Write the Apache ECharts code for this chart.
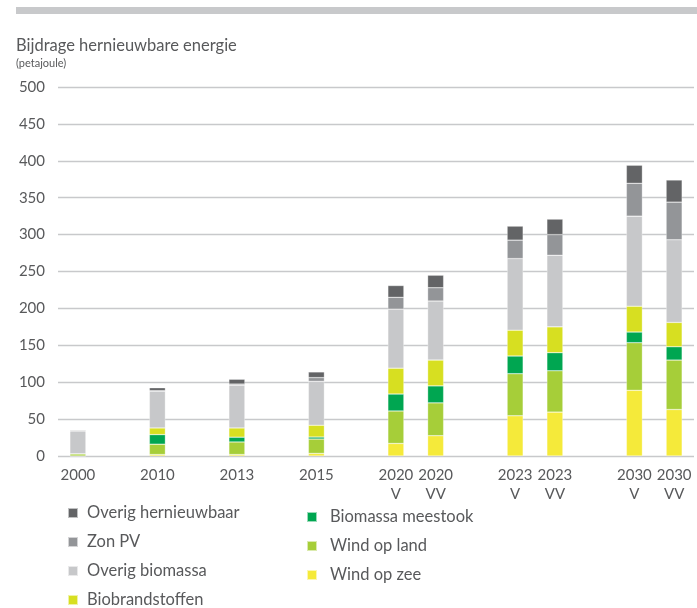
<!DOCTYPE html>
<html>
<head>
<meta charset="utf-8">
<script src="https://cdn.jsdelivr.net/npm/echarts@6/dist/echarts.min.js"></script>
<style>
  html, body { margin: 0; padding: 0; background: #fff; }
  #chart { width: 697px; height: 608px; }
</style>
</head>
<body>
<div id="chart"></div>
<script>
// empty strings are spacer slots so the bars keep their uneven spacing
const categories = ['2000', '', '2010', '', '2013', '', '2015', '', '2020\nV', '2020\nVV', '', '2023\nV', '2023\nVV', '', '2030\nV', '2030\nVV']

const windOpZee = [0, null, 2, null, 2, null, 3.5, null, 17, 27.5, null, 54.5, 59.5, null, 89, 63]
const windOpLand = [3, null, 14, null, 17, null, 19.5, null, 44, 44.5, null, 57, 56, null, 64.5, 67]
const biomassaMeestook = [0, null, 13, null, 6.5, null, 2.7, null, 23, 23, null, 24, 24.5, null, 14.5, 18]
const biobrandstoffen = [0, null, 9, null, 12.5, null, 16, null, 35, 35, null, 35, 35, null, 35, 33]
const overigBiomassa = [31, null, 50, null, 58, null, 59.5, null, 80, 80, null, 97, 97, null, 122, 112]
const zonPV = [0, null, 0.5, null, 1.5, null, 5, null, 16, 18, null, 25, 28, null, 44.5, 51]
const overigHernieuwbaar = [1, null, 4, null, 6.5, null, 7.7, null, 16, 17, null, 19, 21, null, 24.5, 30]

const textColor = '#58595b'
const fontFamily = 'Lato, "Open Sans", sans-serif'

const chart = echarts.init(document.getElementById('chart'))

function bar(name, data, color) {
  return {
    name: name,
    type: 'bar',
    stack: 'total',
    barWidth: 16,
    data: data,
    itemStyle: {
      color: color,
      borderColor: 'rgba(255,255,255,0.6)',
      borderWidth: 0.5
    },
    animation: false
  }
}

function legendText(gap) {
  return {
    color: textColor,
    fontFamily: fontFamily,
    fontSize: 16.5,
    lineHeight: 18,
    padding: [0, 0, 0, gap]
  }
}

chart.setOption({
  textStyle: { fontFamily: fontFamily },
  graphic: [{
    type: 'rect',
    shape: { x: 16, y: 7, width: 681, height: 7 },
    style: { fill: '#c8c9cb' }
  }],
  title: {
    text: 'Bijdrage hernieuwbare energie',
    subtext: '(petajoule)',
    left: 11,
    top: 32,
    itemGap: 4,
    textStyle: { color: textColor, fontSize: 16.5, fontWeight: 'normal', fontFamily: fontFamily },
    subtextStyle: { color: textColor, fontSize: 11, fontFamily: fontFamily }
  },
  grid: {
    left: 58,
    right: 3,
    top: 87,
    bottom: 152
  },
  legend: [{
    data: ['Overig hernieuwbaar', 'Zon PV', 'Overig biomassa', 'Biobrandstoffen'],
    orient: 'vertical',
    left: 62,
    top: 499,
    height: 140,
    icon: 'rect',
    itemWidth: 10,
    itemHeight: 10,
    itemGap: 11,
    textStyle: legendText(4)
  }, {
    data: ['Biomassa meestook', 'Wind op land', 'Wind op zee'],
    orient: 'vertical',
    left: 301,
    top: 503,
    height: 140,
    icon: 'rect',
    itemWidth: 10,
    itemHeight: 10,
    itemGap: 11,
    textStyle: legendText(8)
  }],
  xAxis: {
    type: 'category',
    data: categories,
    axisLine: { show: false },
    axisTick: { show: false },
    axisLabel: {
      interval: 0,
      color: textColor,
      fontSize: 15,
      lineHeight: 19,
      margin: 10,
      fontFamily: fontFamily
    }
  },
  yAxis: {
    type: 'value',
    min: 0,
    max: 500,
    interval: 50,
    axisLine: { show: false },
    axisTick: { show: false },
    axisLabel: {
      color: textColor,
      fontSize: 15,
      margin: 13,
      fontFamily: fontFamily
    },
    splitLine: { lineStyle: { color: '#c8c9cb', width: 1.3 } }
  },
  series: [
    bar('Wind op zee', windOpZee, '#f5ea3a'),
    bar('Wind op land', windOpLand, '#a6ce39'),
    bar('Biomassa meestook', biomassaMeestook, '#00a651'),
    bar('Biobrandstoffen', biobrandstoffen, '#d7df21'),
    bar('Overig biomassa', overigBiomassa, '#c7c8ca'),
    bar('Zon PV', zonPV, '#939598'),
    bar('Overig hernieuwbaar', overigHernieuwbaar, '#636466')
  ]
})
</script>
</body>
</html>
